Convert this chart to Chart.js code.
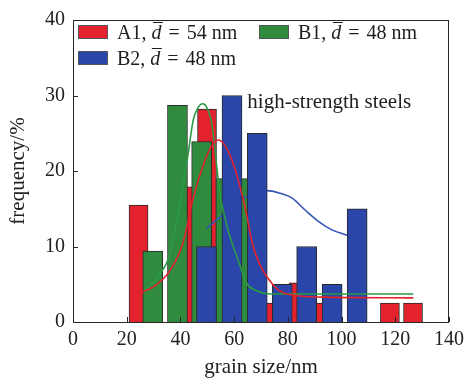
<!DOCTYPE html>
<html>
<head>
<meta charset="utf-8">
<script src="https://cdn.jsdelivr.net/npm/chart.js@4.4.1/dist/chart.umd.min.js"></script>
<style>
  html, body { margin: 0; padding: 0; background: #fff; }
  #wrap { width: 470px; height: 385px; }
</style>
</head>
<body>
<div id="wrap"><canvas id="grainChart" width="470" height="385"></canvas></div>
<script>
// histogram bins (grain size, nm) and frequencies (%)
const a1Sizes = [24.4, 41.4, 49.9, 58.4, 66.9, 75.5, 84, 92.5, 118, 126.6];
const a1Freq  = [15.5, 17.9, 28.2, 15, 8, 2.5, 5.2, 2.5, 2.5, 2.5];
const b1Sizes = [29.7, 38.9, 47.9, 56.9, 65.9];
const b1Freq  = [9.4, 28.7, 23.9, 19, 19];
const b2Sizes = [49.7, 59.2, 68.6, 77.9, 87, 96.5, 105.8];
const b2Freq  = [10, 30, 25, 5, 10, 5, 15];

// fitted distribution curves
const a1FitX = [24.2, 29.7, 35.9, 40.9, 42.7, 44.6, 48.3, 51.4, 54.1, 56.9, 60, 62.5, 64.3, 66.8, 69.3, 73, 76.7, 82.8, 92.7, 126.7];
const a1FitY = [3.8, 4.6, 6.7, 10.4, 13.1, 16.2, 20.6, 23.2, 24.1, 23.2, 20.6, 17.5, 14.8, 10.4, 7.8, 5.6, 4.2, 3.5, 3.3, 3.2];
const b1FitX = [26.5, 30, 33.4, 35.3, 39, 42.7, 44.8, 46.4, 48.3, 49.7, 51.4, 52.6, 53.8, 55.1, 56.3, 58.1, 61.9, 64.5, 68, 74.2, 126.7];
const b1FitY = [4.2, 5.2, 6.9, 8.2, 14, 21.9, 26.8, 28.3, 28.9, 28.5, 26.8, 23.7, 19.7, 16.2, 14.2, 11.7, 7.8, 5.2, 4.2, 3.7, 3.7];
const b2FitX = [49.7, 55.7, 64, 72.3, 76.7, 81.6, 86.5, 91.5, 96.4, 102];
const b2FitY = [12.4, 14.2, 16.5, 17.4, 17.1, 16.4, 14.8, 13.3, 12.2, 11.5];

const sampleNames = ['A1', 'B1', 'B2'];
const meanSizes = [54, 48, 48];
const xTicks = [0, 20, 40, 60, 80, 100, 120, 140];
const yTicks = [0, 10, 20, 30, 40];

const RED = '#e3222e', GREEN = '#2f8c3f', BLUE = '#2a46a8';
const SERIF = '"Liberation Serif", "Times New Roman", serif';

function pts(xs, ys) {
    return xs.map((x, i) => ({ x: x, y: ys[i] }));
}

function fitLine(xs, ys, color, order) {
    return {
        type: 'line',
        data: pts(xs, ys),
        borderColor: color,
        borderWidth: 1.6,
        pointRadius: 0,
        fill: false,
        cubicInterpolationMode: 'monotone',
        order: order
    };
}

function bars(label, xs, ys, color, width, order) {
    return {
        label: label,
        data: pts(xs, ys),
        backgroundColor: color,
        borderColor: '#2a2a2a',
        borderWidth: 1,
        barThickness: width,
        grouped: false,
        order: order
    };
}

// frame, inward ticks, inner legend and the annotation
const decorPlugin = {
    id: 'decor',
    afterDraw(chart) {
        const ctx = chart.ctx;
        const area = chart.chartArea;
        const xs = chart.scales.x, ys = chart.scales.y;
        ctx.save();
        ctx.strokeStyle = '#262626';
        ctx.lineWidth = 1;
        ctx.strokeRect(area.left + 0.5, area.top + 0.5, area.right - area.left - 1, area.bottom - area.top);
        ctx.beginPath();
        xTicks.forEach(v => {
            const px = Math.round(xs.getPixelForValue(v)) + 0.5;
            ctx.moveTo(px, area.bottom);
            ctx.lineTo(px, area.bottom - 5);
        });
        yTicks.forEach(v => {
            const py = Math.round(ys.getPixelForValue(v)) + 0.5;
            ctx.moveTo(area.left, py);
            ctx.lineTo(area.left + 5, py);
        });
        ctx.stroke();

        // legend
        const colors = [RED, GREEN, BLUE];
        const spots = [[5, 0], [186, 0], [5, 26]];
        ctx.textBaseline = 'alphabetic';
        sampleNames.forEach((name, i) => {
            const bx = area.left + spots[i][0];
            const by = area.top + 5 + spots[i][1];
            ctx.fillStyle = colors[i];
            ctx.fillRect(bx, by, 30, 14);
            ctx.strokeStyle = '#555';
            ctx.strokeRect(bx + 0.5, by + 0.5, 29, 13);
            let tx = bx + 39;
            const ty = by + 14;
            ctx.fillStyle = '#1e1e1e';
            ctx.font = '20px ' + SERIF;
            ctx.fillText(name + ', ', tx, ty);
            tx += ctx.measureText(name + ', ').width;
            ctx.font = 'italic 20px ' + SERIF;
            const dw = ctx.measureText('d').width;
            ctx.fillText('d', tx, ty);
            ctx.strokeStyle = '#1e1e1e';
            ctx.beginPath();
            ctx.moveTo(tx + 1.5, ty - 16.5);
            ctx.lineTo(tx + dw + 1.5, ty - 16.5);
            ctx.stroke();
            tx += dw + 7;
            ctx.font = '20px ' + SERIF;
            ctx.fillText('=', tx, ty);
            tx += ctx.measureText('=').width + 7;
            ctx.fillText(meanSizes[i] + ' nm', tx, ty);
        });

        ctx.font = '21px ' + SERIF;
        ctx.fillStyle = '#1e1e1e';
        ctx.fillText('high-strength steels', xs.getPixelForValue(64.9), ys.getPixelForValue(28.4));
        ctx.restore();
    }
};

Chart.defaults.font.family = SERIF;
Chart.defaults.font.size = 20;
Chart.defaults.color = '#222';

const ctx = document.getElementById('grainChart');
new Chart(ctx, {
    type: 'bar',
    data: {
        datasets: [
            fitLine(a1FitX, a1FitY, RED, 0),
            fitLine(b1FitX, b1FitY, '#2b9a45', 0),
            // blue fit sits under the B2 bars, as in the original figure
            fitLine(b2FitX, b2FitY, '#3553b5', 1.5),
            bars('A1', a1Sizes, a1Freq, RED, 19, 3),
            bars('B1', b1Sizes, b1Freq, GREEN, 20, 2),
            bars('B2', b2Sizes, b2Freq, BLUE, 20, 1)
        ]
    },
    options: {
        responsive: false,
        animation: false,
        layout: { padding: { top: 20, right: 19, left: 0, bottom: 0 } },
        plugins: {
            legend: { display: false },
            tooltip: { enabled: false }
        },
        scales: {
            x: {
                type: 'linear',
                min: 0,
                max: 140,
                offset: false,
                grid: { display: false, offset: false, drawTicks: false },
                border: { display: false },
                ticks: { stepSize: 20, padding: 6, maxRotation: 0 },
                title: { display: true, text: 'grain size/nm', font: { size: 21 }, padding: { top: 0, bottom: 5 } },
                afterFit(scale) { scale.height = 63; }
            },
            y: {
                min: 0,
                max: 40,
                grid: { display: false, drawTicks: false },
                border: { display: false },
                ticks: { stepSize: 10, padding: 8 },
                title: { display: true, text: 'frequency/%', font: { size: 21 }, padding: { top: 6, bottom: 0 } },
                afterFit(scale) { scale.width = 73; }
            }
        }
    },
    plugins: [decorPlugin]
});
</script>
</body>
</html>
